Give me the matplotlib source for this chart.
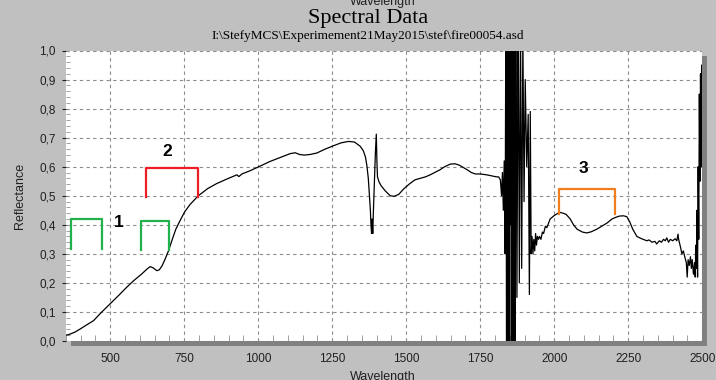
import matplotlib
matplotlib.use("Agg")
import matplotlib.pyplot as plt
from matplotlib.patches import Rectangle
from matplotlib.ticker import MultipleLocator, FuncFormatter

plt.rcParams['font.family'] = ['Liberation Sans', 'DejaVu Sans']

# spectrum (wavelength in nm, reflectance)
wl_vis = [350, 360, 380, 400, 420, 444, 470, 500, 530, 556, 580, 607, 625, 635, 645,
          658, 666, 675, 685, 697, 710, 722, 736, 752, 770, 798, 830, 860, 900, 928,
          935, 945, 970, 996, 1040, 1075, 1108, 1125, 1140, 1155, 1175, 1198, 1225,
          1254, 1280, 1305, 1325, 1345, 1355, 1362, 1367, 1372, 1376, 1379, 1381,
          1383, 1385, 1387, 1389, 1392, 1396, 1399, 1401, 1403, 1408, 1415, 1429,
          1446, 1460, 1475, 1491, 1510, 1530, 1547, 1565, 1581, 1600, 1615, 1630,
          1649, 1665, 1680, 1705, 1720, 1733, 1750, 1772, 1790, 1805]
refl_vis = [0.020, 0.022, 0.030, 0.042, 0.055, 0.070, 0.098, 0.128, 0.158, 0.185,
            0.208, 0.231, 0.248, 0.256, 0.252, 0.242, 0.245, 0.258, 0.280, 0.310,
            0.350, 0.385, 0.414, 0.445, 0.470, 0.500, 0.525, 0.542, 0.560, 0.572,
            0.566, 0.575, 0.585, 0.597, 0.618, 0.632, 0.645, 0.648, 0.642, 0.640,
            0.642, 0.647, 0.660, 0.672, 0.682, 0.687, 0.685, 0.670, 0.655, 0.635,
            0.605, 0.560, 0.500, 0.450, 0.400, 0.370, 0.420, 0.370, 0.440, 0.530,
            0.650, 0.712, 0.620, 0.565, 0.548, 0.535, 0.517, 0.500, 0.498, 0.505,
            0.523, 0.540, 0.555, 0.560, 0.565, 0.572, 0.582, 0.590, 0.600, 0.609,
            0.610, 0.605, 0.590, 0.580, 0.575, 0.575, 0.572, 0.568, 0.565]

# water absorption band, noisy detector signal
wl_water = [1812, 1818, 1822, 1825, 1828, 1831, 1834, 1837, 1839, 1841, 1843, 1845,
            1847, 1849, 1851, 1853, 1855, 1857, 1859, 1861, 1863, 1865, 1867, 1870,
            1874, 1878, 1882, 1886, 1890, 1894, 1898, 1902, 1907, 1912, 1916, 1919,
            1922, 1925, 1928, 1931, 1934, 1937, 1940, 1943, 1947]
refl_water = [0.565, 0.555, 0.500, 0.580, 0.450, 0.620, 0.300, 1.300, -0.300, 1.300,
              -0.300, 1.300, -0.300, 1.300, 0.400, 1.200, -0.200, 1.300, -0.300,
              1.300, -0.300, 1.300, -0.300, 1.200, 0.150, 1.200, 0.200, 1.100, 0.250,
              1.050, 0.480, 0.900, 0.600, 0.780, 0.160, 0.790, 0.300, 0.360, 0.300,
              0.350, 0.310, 0.370, 0.330, 0.360, 0.350]

wl_swir = [1950, 1955, 1960, 1964, 1970, 1975, 1986, 2000, 2018, 2030, 2040, 2054,
           2065, 2077, 2095, 2110, 2125, 2144, 2160, 2178, 2195, 2206, 2220, 2234,
           2245, 2255, 2265, 2279, 2295, 2313, 2320, 2330, 2340, 2346, 2355, 2362,
           2369, 2375, 2380, 2386, 2392, 2400, 2408, 2414, 2418, 2420, 2426, 2431,
           2436, 2442, 2446, 2449, 2452, 2456, 2460, 2463, 2466, 2470, 2474, 2476,
           2478, 2480, 2482, 2484, 2486, 2488, 2490, 2492, 2494, 2496, 2498, 2500]
refl_swir = [0.360, 0.350, 0.375, 0.370, 0.395, 0.390, 0.420, 0.432, 0.443, 0.440,
             0.436, 0.420, 0.400, 0.385, 0.375, 0.372, 0.376, 0.385, 0.395, 0.406,
             0.420, 0.425, 0.430, 0.431, 0.428, 0.410, 0.385, 0.360, 0.352, 0.345,
             0.348, 0.340, 0.343, 0.334, 0.345, 0.340, 0.350, 0.345, 0.355, 0.340,
             0.350, 0.345, 0.352, 0.345, 0.368, 0.350, 0.325, 0.300, 0.310, 0.285,
             0.270, 0.220, 0.280, 0.260, 0.290, 0.250, 0.280, 0.230, 0.270, 0.220,
             0.330, 0.250, 0.450, 0.220, 0.600, 0.350, 0.850, 0.550, 0.920, 0.600,
             0.950, 0.880]

wavelength = wl_vis + wl_water + wl_swir
reflectance = refl_vis + refl_water + refl_swir

# bracket annotations: (left nm, right nm, bottom, top), label, label position
brackets = [(367, 472, 0.317, 0.420), (605, 699, 0.313, 0.414),
            (622, 796, 0.494, 0.595), (2017, 2204, 0.437, 0.523)]
bracket_colors = ['#22b14c', '#22b14c', '#ee1c24', '#f07d1e']
labels = ['1', '2', '3']
label_pos = [(528, 0.408), (694, 0.652), (2099, 0.595)]

W, H = 716, 380
fig = plt.figure(figsize=(W / 100, H / 100), dpi=100, facecolor='#c0c0c0')
x0, x1, ytop, ybot = 65.7, 702.3, 50.5, 341.0

# drop shadow behind plot area
shadow = Rectangle(((x0 + 5) / W, 1 - (ybot + 5) / H), (x1 - x0) / W,
                   (ybot - ytop) / H, transform=fig.transFigure,
                   facecolor='#808080', edgecolor='none', zorder=0)
fig.add_artist(shadow)

ax = fig.add_axes([x0 / W, 1 - ybot / H, (x1 - x0) / W, (ybot - ytop) / H])
ax.set_zorder(2)

ax.plot(wavelength, reflectance, color='black', lw=0.9, zorder=3)

for (a, b, lo, hi), c in zip(brackets, bracket_colors):
    ax.plot([a, a, b, b], [lo, hi, hi, lo], color=c, lw=1.6, zorder=4)
for t, (px, py) in zip(labels, label_pos):
    ax.text(px, py, t, fontsize=12.5, fontweight='bold', ha='center', va='center')

ax.set_xlim(350, 2500)
ax.set_ylim(0, 1.0)
ax.set_facecolor('white')
for s in ax.spines.values():
    s.set_visible(False)

ax.xaxis.set_major_locator(MultipleLocator(250))
ax.xaxis.set_minor_locator(MultipleLocator(50))
ax.yaxis.set_major_locator(MultipleLocator(0.1))
ax.yaxis.set_minor_locator(MultipleLocator(0.02))
ax.yaxis.set_major_formatter(FuncFormatter(lambda v, p: f"{v:.1f}".replace('.', ',')))
ax.grid(True, which='major', color='#8c8c8c', linestyle=(0, (3, 3)), lw=0.8)
ax.tick_params(axis='x', which='major', length=0, pad=9, labelsize=8.5, colors='#202020')
ax.tick_params(axis='x', which='minor', direction='in', length=4, color='#909090')
ax.tick_params(axis='y', which='major', length=3, pad=4, labelsize=8.5,
               colors='#202020')
ax.tick_params(axis='y', which='minor', direction='in', length=3, color='#909090')

ax.set_ylabel('Reflectance', fontsize=9, color='#202020', labelpad=10)

fig.text(383 / W, 1 - 2 / H, 'Wavelength', fontsize=9, ha='center', va='center',
         color='#202020')
fig.text(368 / W, 1 - 18 / H, 'Spectral Data', fontsize=16, ha='center', va='center',
         family=['Liberation Serif', 'DejaVu Serif'])
fig.text(368 / W, 1 - 36 / H, r'I:\StefyMCS\Experimement21May2015\stef\fire00054.asd',
         fontsize=9.5, ha='center', va='center',
         family=['Liberation Serif', 'DejaVu Serif'])
fig.text(383 / W, 1 - 377 / H, 'Wavelength', fontsize=9, ha='center', va='center',
         color='#202020')

fig.savefig('out.png', dpi=100, facecolor=fig.get_facecolor())
